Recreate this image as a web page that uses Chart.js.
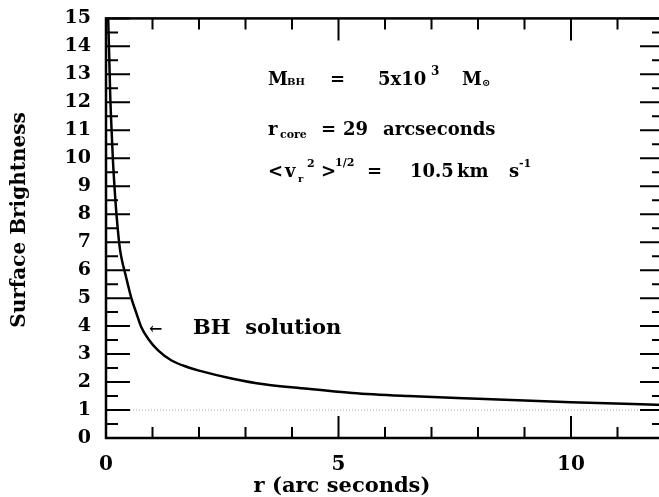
<!DOCTYPE html>
<html><head><meta charset="utf-8">
<script src="https://cdn.jsdelivr.net/npm/chart.js@4.4.0/dist/chart.umd.min.js"></script>
<style>
html,body{margin:0;padding:0;background:#fff;overflow:hidden;}
#wrap{width:659px;height:497px;overflow:hidden;position:relative;}
canvas{display:block;}
</style></head>
<body><div id="wrap"><canvas id="c" width="680" height="497"></canvas></div>
<script>
// Data
const radius = [0.04, 0.05, 0.07, 0.09, 0.12, 0.15, 0.19, 0.23, 0.30, 0.35, 0.41, 0.48, 0.55, 0.66, 0.76, 0.91, 1.12, 1.41, 1.76, 2.0, 2.7, 3.4, 4.2, 5.3, 6.5, 8.0, 10.0, 12.0];
const brightness = [15.6, 14.8, 13.6, 12.3, 11.0, 9.9, 8.8, 7.9, 6.75, 6.3, 5.9, 5.42, 4.97, 4.43, 3.96, 3.54, 3.13, 2.77, 2.53, 2.41, 2.13, 1.92, 1.78, 1.61, 1.5, 1.4, 1.28, 1.18];
const refR = [0, 11.7];
const refLevel = [1, 1];
const xTicks = [0, 5, 10];
const yTicks = [0,1,2,3,4,5,6,7,8,9,10,11,12,13,14,15];

const FONT = '"DejaVu Serif", serif';

const framePlugin = {
  id: 'frame',
  afterDraw(chart) {
    const {ctx, chartArea: a, scales: {x, y}} = chart;
    ctx.save();
    ctx.strokeStyle = '#000';
    ctx.lineWidth = 2.5;
    ctx.strokeRect(a.left, a.top, a.right - a.left, a.bottom - a.top);
    ctx.lineWidth = 2;
    ctx.beginPath();
    for (let v = 0; v <= 15; v += 0.5) {
      const py = y.getPixelForValue(v);
      const len = (v % 1 === 0) ? 24 : 12;
      ctx.moveTo(a.left, py); ctx.lineTo(a.left + len, py);
      ctx.moveTo(a.right, py); ctx.lineTo(a.right - len, py);
    }
    for (let v = 0; v <= 12; v += 1) {
      const px = x.getPixelForValue(v);
      const len = (v % 5 === 0) ? 22 : 11;
      ctx.moveTo(px, a.bottom); ctx.lineTo(px, a.bottom - len);
      ctx.moveTo(px, a.top); ctx.lineTo(px, a.top + len);
    }
    ctx.stroke();

    // axis titles
    ctx.fillStyle = '#000';
    ctx.font = 'bold 21px ' + FONT;
    ctx.textAlign = 'center';
    ctx.textBaseline = 'alphabetic';
    ctx.fillText('r (arc seconds)', 342, 492);
    ctx.save();
    ctx.translate(25, 220);
    ctx.rotate(-Math.PI / 2);
    ctx.font = 'bold 20px ' + FONT;
    ctx.fillText('Surface Brightness', 0, 0);
    ctx.restore();

    // annotations
    ctx.textAlign = 'left';
    const seg = (t, px, by, size) => { ctx.font = 'bold ' + size + 'px ' + FONT; ctx.fillText(t, px, by); };
    seg('M', 268, 85, 18); seg('BH', 287, 85, 10);
    seg('=', 330, 85, 18); seg('5x10', 378, 85, 18); seg('3', 431, 75, 12);
    seg('M', 462, 85, 18); seg('\u2299', 482, 86, 10);

    seg('r', 268, 135, 18); seg('core', 280, 138, 11);
    seg('=', 321, 135, 18); seg('29', 343, 135, 18); seg('arcseconds', 383, 135, 18);

    seg('<', 268, 177, 18); seg('v', 285, 177, 18); seg('r', 298, 182, 10); seg('2', 307, 167, 11);
    seg('>', 321, 177, 18); seg('1/2', 335, 166, 11);
    seg('=', 367, 177, 18); seg('10.5', 410, 177, 18); seg('km', 457, 177, 18);
    seg('s', 509, 177, 18); seg('-1', 519, 167, 11);

    seg('\u2190', 149, 334, 16);
    seg('BH  solution', 193, 334, 21);
    ctx.restore();
  }
};

new Chart(document.getElementById('c'), {
  type: 'scatter',
  data: {
    datasets: [
      {
        data: radius.map((r, i) => ({x: r, y: brightness[i]})),
        showLine: true, borderColor: '#000', borderWidth: 2.5,
        pointRadius: 0, cubicInterpolationMode: 'monotone', fill: false
      },
      {
        data: refR.map((r, i) => ({x: r, y: refLevel[i]})),
        showLine: true, borderColor: '#aaa', borderWidth: 1, borderDash: [1, 2],
        pointRadius: 0, fill: false
      }
    ]
  },
  options: {
    responsive: false, animation: false, devicePixelRatio: 1,
    layout: {autoPadding: false, padding: {left: 0, right: 16, top: 16, bottom: 0}},
    plugins: {legend: {display: false}, tooltip: {enabled: false}},
    scales: {
      x: {
        type: 'linear', min: 0, max: 12,
        afterBuildTicks: s => { s.ticks = xTicks.map(v => ({value: v})); },
        afterFit: s => { s.height = 59; },
        grid: {display: false}, border: {display: false},
        ticks: {color: '#000', padding: 7, font: {family: FONT, size: 20, weight: 'bold'}, maxRotation: 0}
      },
      y: {
        type: 'linear', min: 0, max: 15,
        afterBuildTicks: s => { s.ticks = yTicks.map(v => ({value: v})); },
        afterFit: s => { s.width = 106; },
        grid: {display: false}, border: {display: false},
        ticks: {color: '#000', padding: 7, font: {family: FONT, size: 19, weight: 'bold'}, autoSkip: false}
      }
    }
  },
  plugins: [framePlugin]
});
</script></body></html>
